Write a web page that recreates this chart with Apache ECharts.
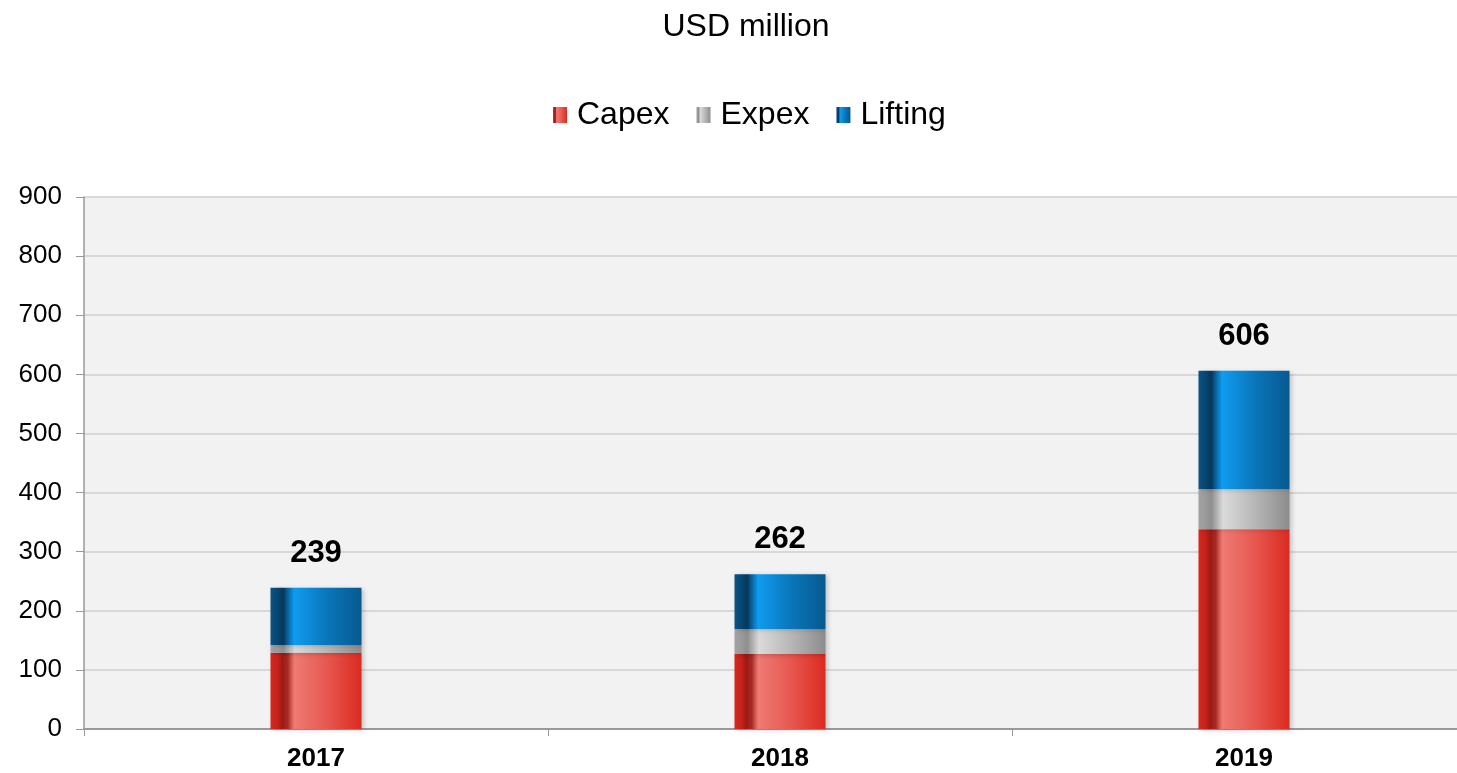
<!DOCTYPE html>
<html>
<head>
<meta charset="utf-8">
<style>
  html, body { margin: 0; padding: 0; background: #fff; overflow: hidden; width: 1457px; height: 773px; }
  /* plot area runs a little past the right edge of the window */
  #chart { width: 1480px; height: 773px; }
</style>
<script src="https://cdn.jsdelivr.net/npm/echarts@6/dist/echarts.min.js"></script>
</head>
<body>
<div id="chart"></div>
<script>
// Spending by year, USD million
const years = ['2017', '2018', '2019'];
const capex = [129, 127, 338];
const expex = [13, 42, 68];
const lifting = [97, 93, 200];
const totals = [239, 262, 606];
const yTicks = [0, 100, 200, 300, 400, 500, 600, 700, 800, 900];

const FONT = '"Liberation Sans", Arial, sans-serif';

// Horizontal cylinder-like shading for each bar colour
function shade(stops) {
  return new echarts.graphic.LinearGradient(0, 0, 1, 0,
    stops.map(s => ({ offset: s[0], color: s[1] })));
}
const redFill = shade([[0, '#d8261e'], [0.08, '#c4221b'], [0.13, '#9c1a14'], [0.19, '#a92a24'], [0.26, '#ee7b74'], [0.6, '#e75a52'], [1, '#dc2a20']]);
const grayFill = shade([[0, '#a2a2a2'], [0.08, '#9a9a9a'], [0.14, '#8e8e8e'], [0.27, '#dadada'], [0.6, '#b9b9b9'], [1, '#8c8c8c']]);
const blueFill = shade([[0, '#0a5386'], [0.08, '#074670'], [0.14, '#053659'], [0.2, '#0a6aa8'], [0.26, '#0e9cf0'], [0.6, '#0a78bd'], [1, '#07598f']]);

const shadow = { shadowBlur: 5, shadowOffsetX: 2, shadowOffsetY: 1, shadowColor: 'rgba(0,0,0,0.22)' };
const BAR_W = 91;

const chart = echarts.init(document.getElementById('chart'));
chart.setOption({
  backgroundColor: '#ffffff',
  animation: false,
  title: {
    text: 'USD million',
    left: 741, top: 6,
    textAlign: 'center',
    textStyle: { fontFamily: FONT, fontSize: 32, fontWeight: 'normal', color: '#000' }
  },
  legend: {
    data: ['Capex', 'Expex', 'Lifting'],
    left: 553, top: 99, padding: 0,
    itemWidth: 14, itemHeight: 16, itemGap: 27,
    icon: 'rect',
    textStyle: { fontFamily: FONT, fontSize: 32, color: '#000', padding: [0, 0, 0, 5] }
  },
  grid: {
    left: 84, top: 197, right: 4, bottom: 44,
    show: true, backgroundColor: '#f2f2f2', borderWidth: 0
  },
  xAxis: {
    type: 'category',
    data: years,
    axisLine: { show: true, lineStyle: { color: '#999', width: 2 } },
    axisTick: { show: true, length: 7, lineStyle: { color: '#999' } },
    axisLabel: { fontFamily: FONT, fontSize: 26, fontWeight: 'bold', color: '#000', margin: 17 }
  },
  yAxis: {
    type: 'value',
    min: yTicks[0], max: yTicks[yTicks.length - 1], interval: 100,
    axisLine: { show: true, lineStyle: { color: '#999', width: 1.5 } },
    axisTick: { show: true, length: 8, lineStyle: { color: '#999' } },
    splitLine: { show: true, lineStyle: { color: '#cfcfcf', width: 1.5 } },
    axisLabel: { fontFamily: FONT, fontSize: 26, color: '#000', margin: 22, padding: [3, 0, 0, 0] }
  },
  series: [
    {
      name: 'Capex', type: 'bar', stack: 'total', barWidth: BAR_W,
      data: capex,
      itemStyle: Object.assign({ color: redFill }, shadow)
    },
    {
      name: 'Expex', type: 'bar', stack: 'total', barWidth: BAR_W,
      data: expex,
      itemStyle: Object.assign({ color: grayFill }, shadow)
    },
    {
      name: 'Lifting', type: 'bar', stack: 'total', barWidth: BAR_W,
      data: lifting,
      itemStyle: Object.assign({ color: blueFill }, shadow),
      label: {
        show: true, position: 'top', distance: 19,
        formatter: p => String(totals[p.dataIndex]),
        fontFamily: FONT, fontSize: 31, fontWeight: 'bold', color: '#000'
      }
    }
  ]
});
</script>
</body>
</html>
